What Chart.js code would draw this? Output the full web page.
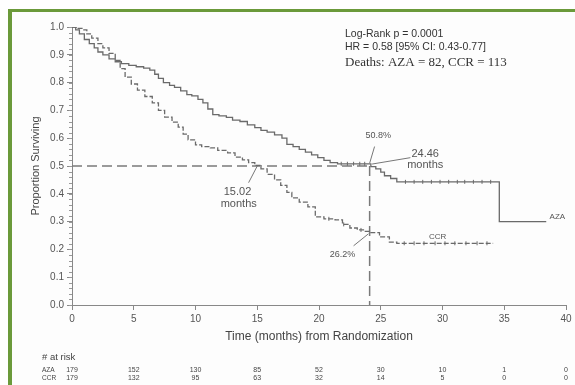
<!DOCTYPE html>
<html>
<head>
<meta charset="utf-8">
<script src="https://cdn.jsdelivr.net/npm/chart.js@4"></script>
<style>
html, body { margin: 0; padding: 0; background: #fff; }
#wrap { position: relative; width: 575px; height: 385px; overflow: hidden; }
#frame { position: absolute; left: 8px; top: 9px; right: -10px; bottom: -10px;
         border-top: 3px solid #6b9a3a; border-left: 4px solid #6b9a3a; background: #fdfdfd; }
canvas { position: absolute; left: 0; top: 0; }
</style>
</head>
<body>
<div id="wrap"><div id="frame"></div><canvas id="chart" width="575" height="385"></canvas></div>
<script>
// Kaplan-Meier steps (months, proportion surviving)
const azaTime = [0, 0.3, 0.6, 1.0, 1.4, 1.8, 2.1, 2.5, 3.0, 3.5, 4.0, 4.6, 5.2, 5.8, 6.3, 6.7, 7.0, 7.4, 7.9, 8.3,
                 8.8, 9.3, 9.7, 10.2, 10.6, 11.0, 11.4, 11.9, 12.5, 13.0, 13.6, 14.2, 14.8, 15.3, 15.8, 16.4, 17.0,
                 17.4, 17.9, 18.4, 18.9, 19.4, 19.9, 20.4, 20.9, 21.5, 24.2, 24.6, 25.0, 25.3, 25.8, 26.3, 34.6, 38.4];
const azaSurv = [1.0, 0.99, 0.975, 0.955, 0.94, 0.925, 0.91, 0.9, 0.885, 0.875, 0.868, 0.862, 0.857, 0.852, 0.845,
                 0.83, 0.815, 0.8, 0.79, 0.783, 0.77, 0.757, 0.752, 0.74, 0.727, 0.705, 0.685, 0.68, 0.675, 0.665,
                 0.66, 0.648, 0.638, 0.628, 0.622, 0.612, 0.6, 0.578, 0.57, 0.56, 0.55, 0.54, 0.53, 0.52, 0.512,
                 0.508, 0.498, 0.49, 0.478, 0.465, 0.455, 0.443, 0.30, 0.30];
const ccrTime = [0, 0.5, 0.9, 1.2, 1.6, 2.1, 2.5, 3.0, 3.5, 3.9, 4.3, 4.8, 5.3, 5.9, 6.5, 7.0, 7.5, 8.1, 8.6, 9.0,
                 9.4, 10.0, 10.5, 11.2, 11.8, 12.6, 13.2, 13.8, 14.3, 14.8, 15.3, 15.8, 16.4, 16.9, 17.4, 17.8,
                 18.4, 19.1, 19.7, 20.4, 21.3, 21.9, 22.5, 23.1, 23.6, 24.1, 24.9, 25.7, 26.3, 34.1];
const ccrSurv = [1.0, 0.995, 0.99, 0.975, 0.96, 0.94, 0.925, 0.905, 0.88, 0.85, 0.82, 0.795, 0.773, 0.75, 0.727,
                 0.7, 0.676, 0.658, 0.64, 0.615, 0.594, 0.576, 0.57, 0.565, 0.556, 0.547, 0.532, 0.522, 0.512,
                 0.502, 0.49, 0.47, 0.45, 0.43, 0.405, 0.385, 0.37, 0.353, 0.317, 0.31, 0.306, 0.29, 0.277, 0.27,
                 0.265, 0.26, 0.245, 0.226, 0.222, 0.222];
const azaCensor = [21.8, 22.3, 22.8, 23.3, 23.7, 27.0, 27.7, 28.4, 29.1, 29.8, 30.5, 31.2, 31.8, 32.5, 33.2, 33.9];
const ccrCensor = [20.8, 22.0, 23.4, 26.9, 27.7, 28.5, 29.4, 30.2, 31.0, 31.9, 32.8, 33.6];

const xTicks = [0, 5, 10, 15, 20, 25, 30, 35, 40];
const azaAtRisk = [179, 152, 130, 85, 52, 30, 10, 1, 0];
const ccrAtRisk = [179, 132, 95, 63, 32, 14, 5, 0, 0];
const medianLine = 24.1;
const medianLevel = 0.5;

function pts(ts, ss) { return ts.map((t, i) => ({ x: t, y: ss[i] })); }
function survAt(ts, ss, t) {
    let v = ss[0];
    for (let i = 0; i < ts.length; i++) if (ts[i] <= t) v = ss[i];
    return v;
}

const gray = '#6a6a6a';
const textGray = '#555';

const extras = {
    id: 'extras',
    afterDatasetsDraw(chart) {
        const ctx = chart.ctx;
        const xs = chart.scales.x, ys = chart.scales.y;
        const px = v => xs.getPixelForValue(v), py = v => ys.getPixelForValue(v);
        ctx.save();
        // minor ticks on the y axis
        ctx.strokeStyle = '#999';
        ctx.lineWidth = 1;
        for (let k = 0; k <= 50; k++) {
            const y = Math.round(py(k / 50)) + 0.5;
            ctx.beginPath(); ctx.moveTo(xs.left - 3, y); ctx.lineTo(xs.left, y); ctx.stroke();
        }
        // leader lines
        ctx.strokeStyle = '#777';
        const seg = (a, b, c, d) => { ctx.beginPath(); ctx.moveTo(px(a), py(b)); ctx.lineTo(px(c), py(d)); ctx.stroke(); };
        seg(24.1, 0.51, 24.5, 0.57);
        seg(24.3, 0.507, 27.4, 0.53);
        seg(15.0, 0.5, 14.3, 0.44);
        seg(24.0, 0.256, 22.8, 0.213);

        ctx.fillStyle = textGray;
        ctx.textAlign = 'center';
        ctx.textBaseline = 'middle';
        ctx.font = '9px "Liberation Sans", Arial, sans-serif';
        ctx.fillText('50.8%', px(24.8), py(0.608));
        ctx.fillText('26.2%', px(21.9), py(0.183));
        ctx.font = '11px "Liberation Sans", Arial, sans-serif';
        ctx.fillText('24.46', px(28.6), py(0.545));
        ctx.fillText('months', px(28.6), py(0.504));
        ctx.fillText('15.02', px(13.4), py(0.405));
        ctx.fillText('months', px(13.5), py(0.364));
        ctx.font = '8px "Liberation Sans", Arial, sans-serif';
        ctx.fillText('AZA', px(39.3), py(0.318));
        ctx.fillText('CCR', px(29.6), py(0.245));

        // statistics block
        ctx.textAlign = 'left';
        ctx.fillStyle = '#333';
        ctx.font = '10.5px "Liberation Sans", Arial, sans-serif';
        ctx.fillText('Log-Rank p = 0.0001', 345, 34);
        ctx.fillText('HR = 0.58 [95% CI: 0.43-0.77]', 345, 47);
        ctx.font = '13px "Liberation Serif", "Times New Roman", serif';
        ctx.fillText('Deaths: AZA = 82, CCR = 113', 345, 63);

        // number at risk table
        ctx.fillStyle = '#444';
        ctx.font = '9.5px "Liberation Sans", Arial, sans-serif';
        ctx.fillText('# at risk', 42, 357);
        ctx.font = '6.5px "Liberation Sans", Arial, sans-serif';
        ctx.fillText('AZA', 42, 370);
        ctx.fillText('CCR', 42, 378);
        ctx.font = '7px "Liberation Sans", Arial, sans-serif';
        ctx.textAlign = 'center';
        xTicks.forEach((t, i) => {
            ctx.fillText(String(azaAtRisk[i]), px(t), 370);
            ctx.fillText(String(ccrAtRisk[i]), px(t), 378);
        });
        ctx.restore();
    }
};

new Chart(document.getElementById('chart'), {
    type: 'line',
    data: {
        datasets: [
            {
                label: 'AZA', data: pts(azaTime, azaSurv), stepped: 'before',
                borderColor: gray, borderWidth: 1.3, pointRadius: 0, fill: false
            },
            {
                label: 'CCR', data: pts(ccrTime, ccrSurv), stepped: 'before',
                borderColor: gray, borderWidth: 1.3, borderDash: [5, 2], pointRadius: 0, fill: false
            },
            {
                label: 'AZA censored', data: azaCensor.map(t => ({ x: t, y: survAt(azaTime, azaSurv, t) })),
                showLine: false, pointStyle: 'line', rotation: 90, pointRadius: 2,
                borderColor: gray, borderWidth: 1
            },
            {
                label: 'CCR censored', data: ccrCensor.map(t => ({ x: t, y: survAt(ccrTime, ccrSurv, t) })),
                showLine: false, pointStyle: 'line', rotation: 90, pointRadius: 2,
                borderColor: gray, borderWidth: 1
            },
            {
                label: 'median h', data: [{ x: 0, y: medianLevel }, { x: medianLine, y: medianLevel }],
                borderColor: '#7a7a7a', borderWidth: 1.5, borderDash: [10, 5], pointRadius: 0
            },
            {
                label: 'median v', data: [{ x: medianLine, y: medianLevel }, { x: medianLine, y: 0 }],
                borderColor: '#7a7a7a', borderWidth: 1.5, borderDash: [10, 5], pointRadius: 0
            }
        ]
    },
    options: {
        responsive: false,
        animation: false,
        layout: { padding: { left: 12, top: 27, right: 9, bottom: 40 } },
        plugins: { legend: { display: false }, tooltip: { enabled: false } },
        scales: {
            x: {
                type: 'linear', min: 0, max: 40,
                afterBuildTicks: s => { s.ticks = xTicks.map(v => ({ value: v })); },
                afterFit: s => { s.height = 40; },
                grid: { drawOnChartArea: false, tickLength: 5, color: '#888' },
                border: { color: '#888' },
                ticks: { color: textGray, font: { size: 10, family: '"Liberation Sans", Arial' }, padding: 3, maxRotation: 0 },
                title: {
                    display: true, text: 'Time (months) from Randomization', color: '#444',
                    font: { size: 12, family: '"Liberation Sans", Arial' }, padding: { top: 0, bottom: 1 }
                }
            },
            y: {
                min: 0, max: 1,
                afterFit: s => { s.width = 60; },
                grid: { drawOnChartArea: false, tickLength: 5, color: '#888' },
                border: { color: '#888' },
                ticks: {
                    stepSize: 0.1, color: textGray, padding: 3,
                    font: { size: 10, family: '"Liberation Sans", Arial' },
                    callback: v => v.toFixed(1)
                },
                title: {
                    display: true, text: 'Proportion Surviving', color: '#444',
                    font: { size: 11, family: '"Liberation Sans", Arial' }, padding: { top: 17, bottom: 0 }
                }
            }
        }
    },
    plugins: [extras]
});
</script>
</body>
</html>
